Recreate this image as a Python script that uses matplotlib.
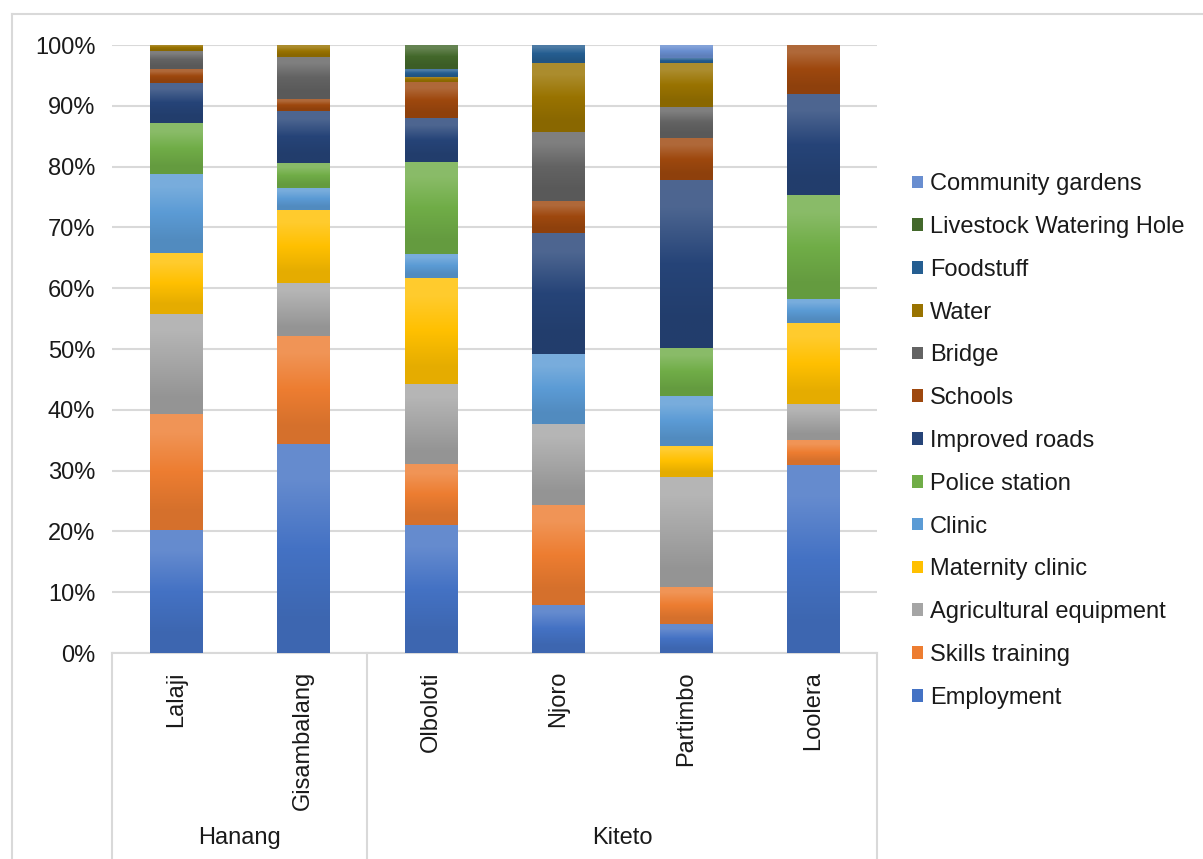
import numpy as np
import matplotlib
matplotlib.use('Agg')
import matplotlib.pyplot as plt
from matplotlib.colors import to_rgb

plt.rcParams['font.family'] = ['Liberation Sans', 'DejaVu Sans']

villages = ['Lalaji', 'Gisambalang', 'Olboloti', 'Njoro', 'Partimbo', 'Loolera']
districts = ['Hanang', 'Kiteto']
district_span = [2, 4]

series = ['Employment', 'Skills training', 'Agricultural equipment', 'Maternity clinic',
          'Clinic', 'Police station', 'Improved roads', 'Schools', 'Bridge', 'Water',
          'Foodstuff', 'Livestock Watering Hole', 'Community gardens']

# percent of responses per village
employment = [20.2, 34.3, 21.0, 7.9, 4.7, 30.9]
skills = [19.1, 17.8, 10.1, 16.4, 6.2, 4.1]
agri = [16.4, 8.8, 13.1, 13.4, 18.0, 6.0]
maternity = [10.1, 11.9, 17.4, 0.0, 5.2, 13.2]
clinic = [13.0, 3.7, 4.0, 11.4, 8.1, 4.0]
police = [8.3, 4.1, 15.2, 0.0, 7.9, 17.1]
roads = [6.7, 8.6, 7.2, 20.0, 27.7, 16.6]
schools = [2.2, 1.9, 5.9, 5.3, 6.9, 8.1]
bridge = [3.0, 7.0, 0.0, 11.3, 5.1, 0.0]
water = [1.0, 1.9, 0.9, 11.3, 7.2, 0.0]
foodstuff = [0.0, 0.0, 1.2, 3.0, 0.8, 0.0]
livestock = [0.0, 0.0, 4.0, 0.0, 0.0, 0.0]
gardens = [0.0, 0.0, 0.0, 0.0, 2.2, 0.0]

colors = ['#4472C4', '#ED7D31', '#A5A5A5', '#FFC000', '#5B9BD5', '#70AD47',
          '#264478', '#9E480E', '#636363', '#997300', '#255E91', '#43682B', '#698ED0']

data = np.array([employment, skills, agri, maternity, clinic, police, roads,
                 schools, bridge, water, foodstuff, livestock, gardens])
data = data / data.sum(axis=0) * 100

W, H = 1203, 859
fig = plt.figure(figsize=(W / 100, H / 100), dpi=100)
ax = fig.add_axes([112 / W, (859 - 653) / H, (877 - 112) / W, 608 / H])

x = np.arange(len(villages))
bottom = np.zeros(len(villages))
handles = []
for name, vals, col in zip(series, data, colors):
    bars = ax.bar(x, vals, 0.41, bottom=bottom, color=col, label=name, zorder=2)
    handles.append(bars)
    # excel style vertical gradient
    c = np.array(to_rgb(col))
    top = c + (1 - c) * 0.18
    mid = c
    bot = c * 0.9
    grad = np.array([top, mid, bot])[:, None, :]
    for p in bars.patches:
        if p.get_height() <= 0:
            continue
        x0, y0 = p.get_x(), p.get_y()
        im = ax.imshow(grad, extent=(x0, x0 + p.get_width(), y0, y0 + p.get_height()),
                       aspect='auto', interpolation='bilinear', zorder=3)
        im.set_clip_path(p)
    bottom += vals

ax.set_xlim(-0.5, len(villages) - 0.5)
ax.set_ylim(0, 100)
ax.set_yticks(np.arange(0, 101, 10))
ax.set_yticklabels([f'{v}%' for v in range(0, 101, 10)], fontsize=17, color='#1a1a1a')
ax.yaxis.grid(True, color='#d9d9d9', lw=1.5, zorder=0)
ax.set_axisbelow(True)
ax.tick_params(axis='y', length=0, pad=12)
ax.set_xticks(x)
ax.set_xticklabels(villages, rotation=90, fontsize=17, color='#1a1a1a', va='top')
ax.tick_params(axis='x', length=0, pad=13)
for s in ['top', 'right', 'left']:
    ax.spines[s].set_visible(False)
ax.spines['bottom'].set_color('#d9d9d9')
ax.spines['bottom'].set_linewidth(1.5)

# group separators and district labels under the axis
trans = ax.get_xaxis_transform()
edges = np.concatenate([[0], np.cumsum(district_span)]) - 0.5
for e in edges:
    ax.plot([e, e], [0, -0.36], transform=trans, color='#d9d9d9', lw=1.5, clip_on=False)
for i, d in enumerate(districts):
    ax.text((edges[i] + edges[i + 1]) / 2, -0.304, d, transform=trans, ha='center',
            va='center', fontsize=17, color='#1a1a1a')

# chart area border
fig.add_artist(plt.Line2D([12 / W, 12 / W], [0, 1 - 14 / H], color='#d9d9d9', lw=1.5))
fig.add_artist(plt.Line2D([12 / W, 1], [1 - 14 / H, 1 - 14 / H], color='#d9d9d9', lw=1.5))

leg = fig.legend(handles[::-1], series[::-1], loc='center left',
                 bbox_to_anchor=(903 / W, 1 - 441 / H), frameon=False, fontsize=17,
                 handlelength=0.45, handleheight=0.45, handletextpad=0.3,
                 labelspacing=0.88, borderaxespad=0)
for t in leg.get_texts():
    t.set_color('#1a1a1a')

fig.savefig('out.png', dpi=100)
